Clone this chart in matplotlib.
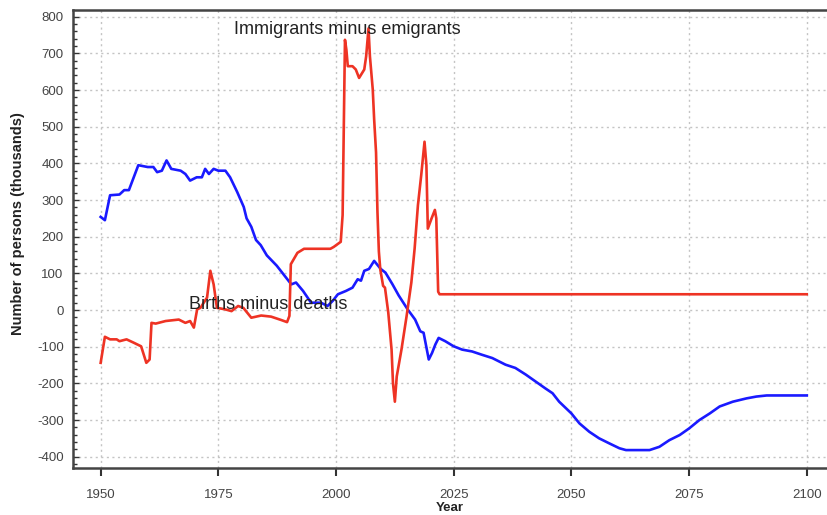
import matplotlib
matplotlib.use("Agg")
import matplotlib.pyplot as plt
from matplotlib.ticker import MultipleLocator

# births minus deaths (thousands)
birth_years = [1950, 1950.9, 1952, 1954, 1955, 1956, 1958, 1960, 1961.2, 1962, 1963, 1964,
               1965, 1967, 1968, 1969, 1970.4, 1971.5, 1972.2, 1973, 1974, 1975, 1976.5,
               1977.5, 1979, 1980.4, 1981, 1982, 1983, 1984, 1985.3, 1987.4, 1988.8, 1990.5,
               1991.5, 1993, 1994.7, 1996.8, 1998.2, 1999.3, 2000.4, 2002.1, 2003.5, 2004.6,
               2005.3, 2006, 2007, 2008.1, 2009.5, 2010.5, 2012, 2013.3, 2015.2, 2016.8,
               2017.9, 2018.6, 2019.7, 2020.4, 2021.1, 2021.8, 2023.2, 2025, 2026.8, 2028.9,
               2031, 2033.2, 2036, 2038.1, 2040.3, 2042.4, 2044.5, 2046, 2047.4, 2050, 2051.7,
               2053.8, 2055.9, 2058.1, 2060.2, 2061.6, 2066.6, 2068.7, 2070.8, 2073, 2075,
               2077.2, 2079.4, 2081.5, 2084.3, 2087.2, 2089.3, 2091.5, 2100]
births = [254, 245, 313, 315, 327, 327, 395, 390, 390, 376, 380, 408,
          385, 380, 371, 353, 362, 362, 385, 371, 385, 380, 380,
          362, 322, 281, 250, 227, 191, 177, 149, 121, 98, 70,
          75, 52, 20, 20, 11, 25, 43, 52, 61, 84,
          80, 107, 112, 134, 112, 102, 70, 40, 2, -26,
          -58, -62, -135, -117, -94, -76, -85, -99, -108, -113,
          -122, -131, -149, -158, -176, -195, -214, -227, -250, -282, -309,
          -332, -350, -364, -377, -382, -382, -373, -355, -341, -323,
          -300, -282, -263, -250, -241, -236, -233, -233]

# immigrants minus emigrants (thousands)
mig_years = [1950, 1950.9, 1952, 1953.4, 1954, 1955.5, 1957, 1958.6, 1959.7, 1960.4, 1960.8,
             1961.7, 1963.8, 1966.6, 1968, 1969, 1969.8, 1970.5, 1971.2, 1972.6, 1973.3, 1974,
             1974.7, 1976.4, 1977.8, 1979.2, 1980.3, 1982, 1984.1, 1986.2, 1988.3, 1989.6,
             1990.1, 1990.4, 1991.8, 1993.2, 1998.8, 1999.5, 2001, 2001.4, 2001.9, 2002.2,
             2002.5, 2003.5, 2004.2, 2004.9, 2006, 2006.4, 2006.9, 2007.2, 2007.8, 2008.1,
             2008.5, 2008.8, 2009.1, 2009.4, 2010, 2010.4, 2011.1, 2011.8, 2012.1, 2012.5,
             2012.9, 2013.9, 2015, 2016, 2016.7, 2017.4, 2018.1, 2018.8, 2019.2, 2019.5,
             2020.3, 2021, 2021.3, 2021.7, 2022, 2100]
migration = [-144, -73, -80, -80, -85, -80, -89, -99, -144, -135, -35,
             -37, -30, -26, -35, -30, -48, 2, 6, 34, 107, 70,
             6, 2, -3, 11, 6, -21, -15, -18, -27, -33,
             -16, 125, 156, 167, 167, 172, 186, 259, 737, 710,
             665, 665, 656, 633, 656, 692, 768, 692, 602, 520,
             430, 268, 160, 111, 66, 61, -7, -108, -200, -250,
             -181, -108, -16, 75, 168, 286, 368, 459, 395, 222,
             250, 273, 250, 50, 43, 43]

x_ticks = [1950, 1975, 2000, 2025, 2050, 2075, 2100]

plt.rcParams['font.family'] = ['Liberation Sans', 'DejaVu Sans']
plt.rcParams['axes.unicode_minus'] = False

fig = plt.figure(figsize=(8.27, 5.15), dpi=100)
ax = fig.add_axes([0.0887, 0.0913, 0.9113, 0.8893])

ax.plot(birth_years, births, color="#1a1aff", linewidth=1.9)
ax.plot(mig_years, migration, color="#ee3324", linewidth=1.9)

ax.text(1978.3, 764, "Immigrants minus emigrants", fontsize=13, color="#222222",
        ha="left", va="center")
ax.text(1968.8, 14, "Births minus deaths", fontsize=13, color="#222222",
        ha="left", va="center")

ax.set_xlim(1944.2, 2104.3)
ax.set_ylim(-430.8, 818.3)
ax.set_xticks(x_ticks)
ax.yaxis.set_major_locator(MultipleLocator(100))
ax.yaxis.set_minor_locator(MultipleLocator(20))

ax.grid(True, which="major", linestyle=(0, (1.5, 2.5)), color="#c4c4c4", linewidth=1)

ax.tick_params(axis="y", which="both", direction="in", left=True, right=False,
               labelsize=9.5, labelcolor="#444444", colors="#333333", pad=7)
ax.tick_params(axis="y", which="major", length=4, width=1)
ax.tick_params(axis="y", which="minor", length=3, width=1)
ax.tick_params(axis="x", which="major", direction="out", length=6, width=1.5,
               labelsize=9.5, labelcolor="#444444", colors="#333333", pad=9)

ax.spines["right"].set_visible(False)
for s in ["left", "bottom", "top"]:
    ax.spines[s].set_color("#444444")
    ax.spines[s].set_linewidth(1.8)

ax.set_xlabel("Year", fontsize=9.5, fontweight="bold", color="#222222")
ax.xaxis.set_label_coords(0.5, -0.074)
ax.set_ylabel("Number of persons (thousands)", fontsize=10.5, fontweight="bold",
              color="#222222")
ax.yaxis.set_label_coords(-0.064, 0.533)

fig.savefig("out.png", dpi=100)
